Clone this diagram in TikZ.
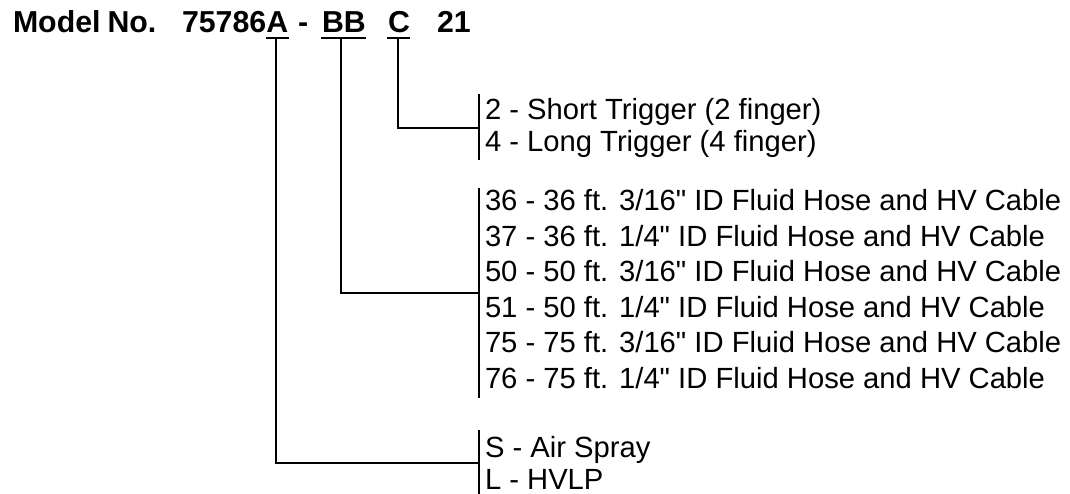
\documentclass[tikz,border=0pt]{standalone}
\usepackage{fontspec}
\setmainfont{Liberation Sans}[Ligatures=TeXOff]
\usetikzlibrary{calc}
\begin{document}
\begin{tikzpicture}[x=1pt,y=-1pt, line width=2pt,
  every node/.style={outer sep=0pt},
  lbl/.style={anchor=base west, inner sep=0pt, font=\fontsize{29.2}{30}\selectfont},
  hd/.style={anchor=base west, inner sep=0pt, font=\fontsize{30.3}{31}\selectfont\bfseries},
  conn/.style={line width=2pt, line cap=butt},
  bar/.style={line width=2.2pt}]
\useasboundingbox (0,0) rectangle (1070,494);
% header
\node[hd] (model) at (13,33) {Model\kern7pt No.};
\node[hd] (num) at (182,33) {75786};
\node[hd] (cA) at (num.base east) {A};
\node[hd] (dash) at (298,33) {-};
\node[hd] (cBB) at (322,33) {BB};
\node[hd] (cC) at (388,33) {C};
\node[hd] (n21) at (437,33) {21};
% underlines
\draw[conn] ($(cA.base west)+(0,5)$) -- ($(cA.base east)+(1,5)$);
\draw[conn] ($(cBB.base west)+(-1,5)$) -- ($(cBB.base east)+(0,5)$);
\draw[conn] ($(cC.base west)+(-1,5)$) -- ($(cC.base east)+(0,5)$);
\coordinate (uA) at (276,38);
\coordinate (uBB) at (341,38);
\coordinate (uC) at (398,38);
% bars
\coordinate (jC) at (479,128);
\coordinate (jBB) at (479,293);
\coordinate (jA) at (479,463);
\draw[bar] (479,94) -- (479,160);
\draw[bar] (479,188) -- (479,398);
\draw[bar] (479,430) -- (479,494);
% connectors
\draw[conn] (uC) |- (jC);
\draw[conn] (uBB) |- (jBB);
\draw[conn] (uA) |- (jA);
% C options
\node[lbl] (c2) at (485,120) {2 - Short Trigger (2 finger)};
\node[lbl] (c4) at (485,152) {4 - Long Trigger (4 finger)};
% BB options
\node[lbl] (b36) at (485,211) {36 - 36 ft. 3/16" ID Fluid Hose and HV Cable};
\node[lbl] (b37) at (485,246.4) {37 - 36 ft. 1/4" ID Fluid Hose and HV Cable};
\node[lbl] (b50) at (485,281.8) {50 - 50 ft. 3/16" ID Fluid Hose and HV Cable};
\node[lbl] (b51) at (485,317.2) {51 - 50 ft. 1/4" ID Fluid Hose and HV Cable};
\node[lbl] (b75) at (485,352.6) {75 - 75 ft. 3/16" ID Fluid Hose and HV Cable};
\node[lbl] (b76) at (485,388) {76 - 75 ft. 1/4" ID Fluid Hose and HV Cable};
% A options
\node[lbl] (aS) at (485,457.5) {S - Air Spray};
\node[lbl] (aL) at (485,489.5) {L - HVLP};
\end{tikzpicture}
\end{document}
